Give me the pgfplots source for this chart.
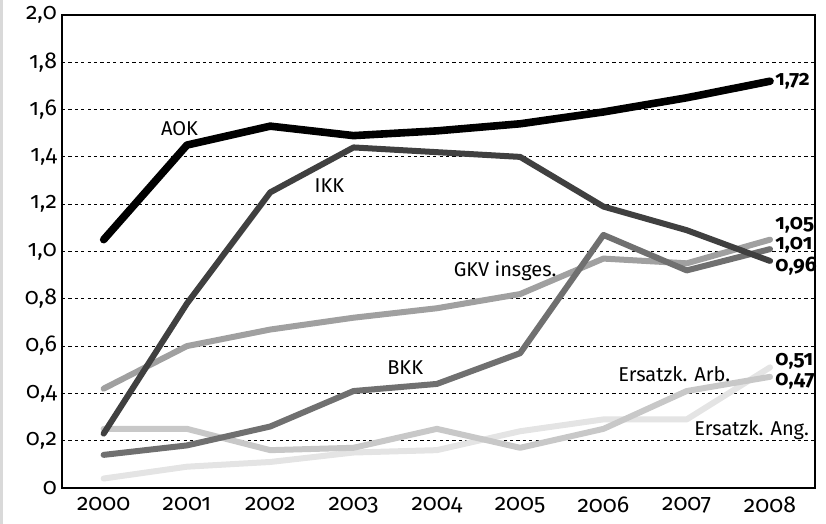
\documentclass[border=0pt]{standalone}
\usepackage{pgfplots}
\pgfplotsset{compat=1.18}
\usepackage{fontspec}
\setmainfont[Numbers=OldStyle]{Fira Sans}

\definecolor{cIKK}{HTML}{404040}
\definecolor{cBKK}{HTML}{707070}
\definecolor{cGKV}{HTML}{A0A0A0}
\definecolor{cArb}{HTML}{C8C8C8}
\definecolor{cAng}{HTML}{E4E4E4}

\begin{document}
\begin{tikzpicture}[font=\fontsize{10}{12}\selectfont]
\begin{axis}[
    scale only axis,
    width=376.5pt, height=236.5pt,
    xmin=1999.5, xmax=2008.54,
    ymin=0, ymax=2,
    xtick={2000,...,2008},
    xticklabels={2000,2001,2002,2003,2004,2005,2006,2007,2008},
    ytick={0,0.2,...,2.0},
    yticklabels={0,{0,2},{0,4},{0,6},{0,8},{1,0},{1,2},{1,4},{1,6},{1,8},{2,0}},
    major tick length=0pt,
    ymajorgrids,
    grid style={black, line width=0.5pt, dash pattern=on 1.6pt off 1.6pt},
    axis line style={line width=1.2pt},
    ticklabel style={font=\fontsize{11.5}{13}\selectfont},
    xticklabel style={yshift=-1pt},
    yticklabel style={xshift=1pt},
    every axis plot/.append style={line cap=round, line join=round, line width=3pt},
    clip=false,
]
% Ersatzkassen Angestellte
\addplot[cAng] coordinates {(2000,0.04) (2001,0.09) (2002,0.11) (2003,0.15) (2004,0.16) (2005,0.24) (2006,0.29) (2007,0.29) (2008,0.51)};
% Ersatzkassen Arbeiter
\addplot[cArb] coordinates {(2000,0.25) (2001,0.25) (2002,0.16) (2003,0.17) (2004,0.25) (2005,0.17) (2006,0.25) (2007,0.41) (2008,0.47)};
% GKV insgesamt
\addplot[cGKV] coordinates {(2000,0.42) (2001,0.60) (2002,0.67) (2003,0.72) (2004,0.76) (2005,0.82) (2006,0.97) (2007,0.95) (2008,1.05)};
% BKK
\addplot[cBKK] coordinates {(2000,0.14) (2001,0.18) (2002,0.26) (2003,0.41) (2004,0.44) (2005,0.57) (2006,1.07) (2007,0.92) (2008,1.01)};
% IKK
\addplot[cIKK] coordinates {(2000,0.23) (2001,0.78) (2002,1.25) (2003,1.44) (2004,1.42) (2005,1.40) (2006,1.19) (2007,1.09) (2008,0.96)};
% AOK
\addplot[black, line width=3.8pt] coordinates {(2000,1.05) (2001,1.45) (2002,1.53) (2003,1.49) (2004,1.51) (2005,1.54) (2006,1.59) (2007,1.65) (2008,1.72)};

\node at (axis cs:2000.91,1.52) {AOK};
\node at (axis cs:2002.71,1.28) {IKK};
\node at (axis cs:2004.82,0.92) {GKV insges.};
\node at (axis cs:2003.62,0.507) {BKK};
\node at (axis cs:2006.85,0.482) {Ersatzk. Arb.};
\node at (axis cs:2007.78,0.245) {Ersatzk. Ang.};

\begin{scope}[font=\fontsize{10.5}{12}\selectfont\bfseries, inner sep=0pt]
\node[anchor=west] at (axis cs:2008.06,1.72) {1,72};
\node[anchor=west] at (axis cs:2008.06,1.11) {1,05};
\node[anchor=west] at (axis cs:2008.06,1.025) {1,01};
\node[anchor=west] at (axis cs:2008.06,0.94) {0,96};
\node[anchor=west] at (axis cs:2008.06,0.535) {0,51};
\node[anchor=west] at (axis cs:2008.06,0.45) {0,47};
\end{scope}
\end{axis}
\draw[black!15, line width=1.5pt] (-30.2pt,-18pt) -- (-30.2pt,244pt);
\pgfresetboundingbox
\path (-31pt,-18pt) rectangle (382pt,244pt);
\end{tikzpicture}
\end{document}
